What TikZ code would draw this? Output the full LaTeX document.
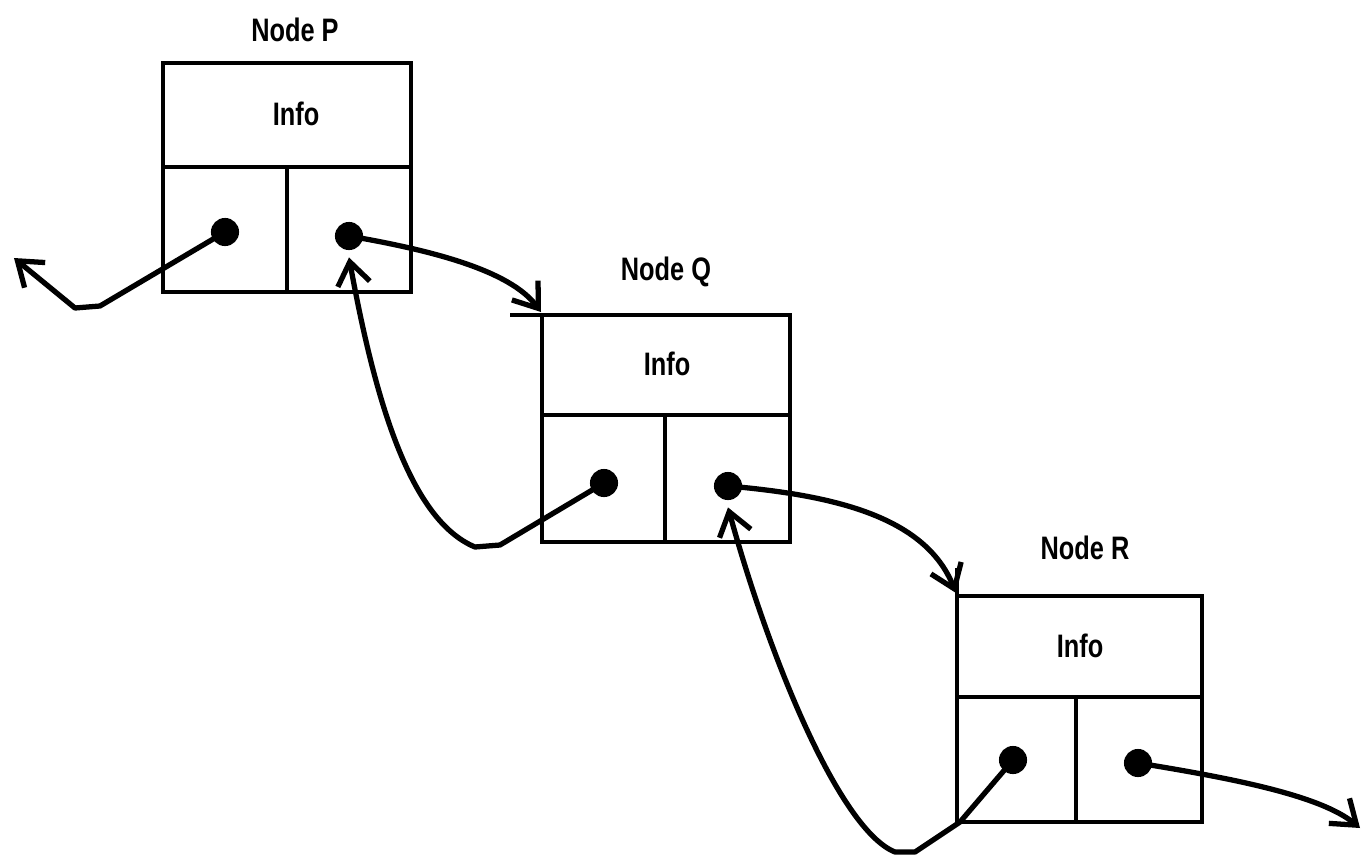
\documentclass[tikz,border=0pt]{standalone}
\usepackage{fontspec}
\usepackage{graphicx}
\setmainfont{Liberation Sans}
\usetikzlibrary{arrows.meta}
\newcommand{\lbl}[1]{\scalebox{0.78}[1]{\fontsize{18.5}{22}\selectfont\bfseries #1}}
\tikzset{
  boxline/.style={line width=2.5pt, line cap=rect},
  arr/.style={line width=3pt, -{Straight Barb[length=4.5mm,width=6.5mm,line width=3pt]}, line join=round},
  dot/.style={circle, fill=black, inner sep=0pt, minimum size=16pt},
  title/.style={inner sep=0pt},
}
\begin{document}
\begin{tikzpicture}[x=0.02cm,y=-0.02cm]
\useasboundingbox (0,0) rectangle (1367,856);
\fill[white] (0,0) rectangle (1367,856);

% Node P
\draw[boxline] (163,63) rectangle (411,292);
\draw[boxline] (163,167) -- (411,167);
\draw[boxline] (287,167) -- (287,292);
\node[title] (tP) at (295,30) {\lbl{Node P}};
\node[title] (iP) at (296,114) {\lbl{Info}};
\node[dot] (pl) at (225,232) {};
\node[dot] (pr) at (349,236) {};

% Node Q
\draw[boxline] (542,315) rectangle (790,542);
\draw[boxline] (542,415) -- (790,415);
\draw[boxline] (665,415) -- (665,542);
\draw[boxline] (512,315) -- (542,315);
\node[title] (tQ) at (666,272) {\lbl{Node Q}};
\node[title] (iQ) at (667,364) {\lbl{Info}};
\node[dot] (ql) at (604,483) {};
\node[dot] (qr) at (728,486) {};

% Node R
\draw[boxline] (957,596) rectangle (1202,822);
\draw[boxline] (957,697) -- (1202,697);
\draw[boxline] (1076,697) -- (1076,822);
\draw[boxline] (957,570) -- (957,596);
\node[title] (tR) at (1085,548) {\lbl{Node R}};
\node[title] (iR) at (1080,646) {\lbl{Info}};
\node[dot] (rl) at (1013,760) {};
\node[dot] (rr) at (1138,763) {};

% free ends
\coordinate (endP) at (14,258);
\coordinate (endR) at (1360,828);
\coordinate (qtl) at (541,312);
\coordinate (rtl) at (956,593);

% pointers
\draw[arr] (pl.center) -- (100,306) -- (75,308) -- (endP);
\draw[arr] (pr.center) .. controls (430,250) and (510,270) .. (qtl);
\draw[arr] (ql.center) -- (500,545) -- (475,547) .. controls (410,520) and (375,400) .. ([yshift=-4pt]pr.south);
\draw[arr] (qr.center) .. controls (830,495) and (925,515) .. (rtl);
\draw[arr] (rl.center) -- (960,822) -- (915,852) -- (895,852) .. controls (840,830) and (770,660) .. ([yshift=-4pt]qr.south);
\draw[arr] (rr.center) .. controls (1230,778) and (1320,795) .. (endR);
\end{tikzpicture}
\end{document}
